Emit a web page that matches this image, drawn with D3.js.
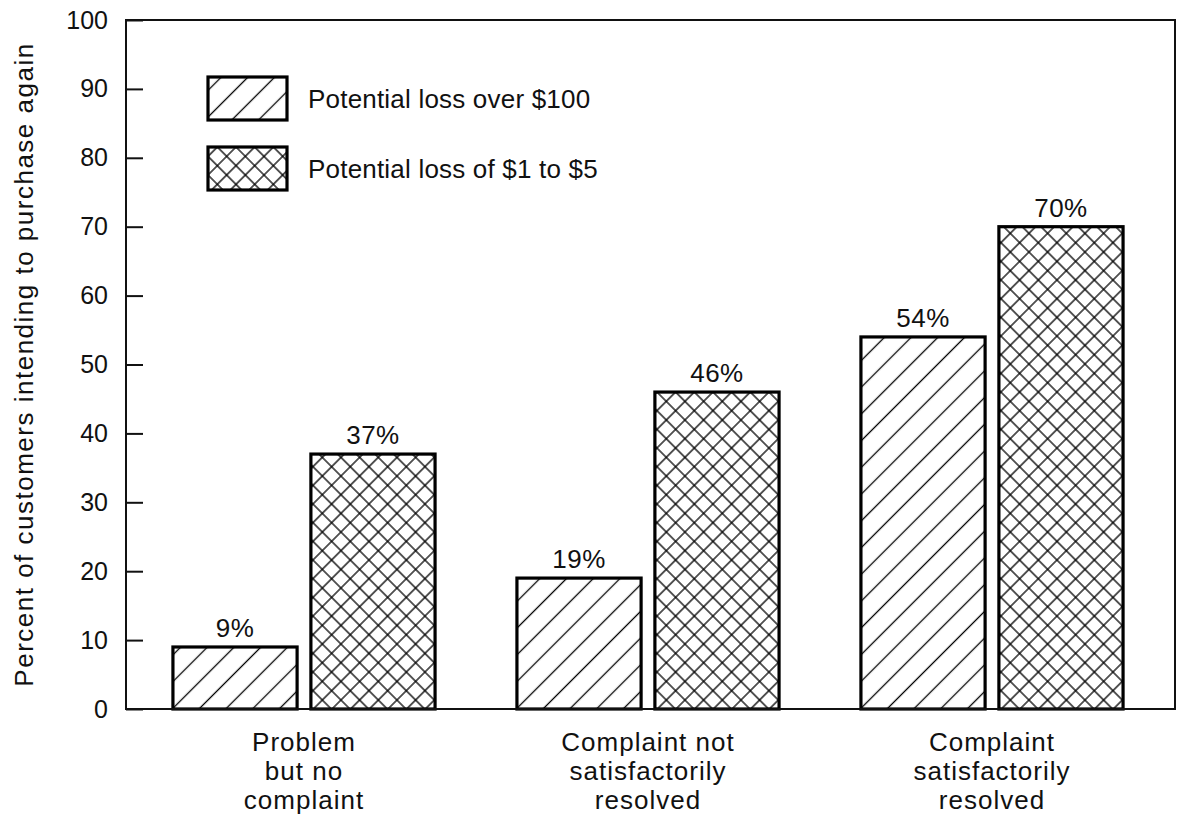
<!DOCTYPE html>
<html>
<head>
<meta charset="utf-8">
<script src="https://cdn.jsdelivr.net/npm/d3@7"></script>
<style>
  html, body { margin: 0; padding: 0; background: #fff; }
  svg { display: block; }
  text { font-family: "Liberation Sans", Arial, Helvetica, sans-serif; fill: #111; }
</style>
</head>
<body>
<script>
// Repurchase intention by complaint outcome and size of potential loss
const categories = [
  ["Problem", "but no", "complaint"],
  ["Complaint not", "satisfactorily", "resolved"],
  ["Complaint", "satisfactorily", "resolved"]
];
const seriesNames = ["Potential loss over $100", "Potential loss of $1 to $5"];
const lossOver100 = [9, 19, 54];
const loss1to5 = [37, 46, 70];
const yTicks = [0, 10, 20, 30, 40, 50, 60, 70, 80, 90, 100];
const yTitle = "Percent of customers intending to purchase again";

const W = 1177, H = 818;
const plot = { left: 126, right: 1175, top: 20, bottom: 709 };
const fontSize = 26;

const svg = d3.select("body").append("svg")
  .attr("width", W).attr("height", H);

// Hatch fills: single diagonal and cross diagonal
const defs = svg.append("defs");
function hatch(id, gap, cross) {
  const p = defs.append("pattern")
    .attr("id", id)
    .attr("patternUnits", "userSpaceOnUse")
    .attr("width", gap).attr("height", gap)
    .attr("patternTransform", "rotate(45)");
  p.append("rect").attr("width", gap).attr("height", gap).attr("fill", "#fff");
  p.append("line").attr("x1", gap / 2).attr("y1", 0).attr("x2", gap / 2).attr("y2", gap)
    .attr("stroke", "#000").attr("stroke-width", 1.3);
  if (cross) {
    p.append("line").attr("x1", 0).attr("y1", gap / 2).attr("x2", gap).attr("y2", gap / 2)
      .attr("stroke", "#000").attr("stroke-width", 1.3);
  }
}
hatch("hatchSingle", 18.9, false);
hatch("hatchCross", 13.2, true);
const fills = ["url(#hatchSingle)", "url(#hatchCross)"];

const x0 = d3.scaleBand()
  .domain(d3.range(categories.length))
  .range([132, 1164])
  .paddingInner(0.238)
  .paddingOuter(0.119);
const x1 = d3.scaleBand()
  .domain([0, 1])
  .range([0, x0.bandwidth()])
  .paddingInner(0.1)
  .paddingOuter(0);
const y = d3.scaleLinear().domain([0, 100]).range([plot.bottom, plot.top]);

// Frame
svg.append("rect")
  .attr("x", plot.left).attr("y", plot.top)
  .attr("width", plot.right - plot.left).attr("height", plot.bottom - plot.top)
  .attr("fill", "none").attr("stroke", "#111").attr("stroke-width", 2);

// Y axis with inward ticks
const yAxis = d3.axisLeft(y).tickValues(yTicks).tickSizeInner(-17).tickSizeOuter(0);
const yg = svg.append("g").attr("transform", `translate(${plot.left},0)`).call(yAxis);
yg.select(".domain").remove();
yg.selectAll(".tick line").attr("stroke", "#111").attr("stroke-width", 2);
yg.selectAll(".tick text")
  .attr("font-size", 25)
  .attr("font-family", "Liberation Sans, Arial, sans-serif")
  .attr("fill", "#111")
  .attr("x", -18);

// Y axis title
svg.append("text")
  .attr("transform", `translate(33,${(plot.top + plot.bottom) / 2}) rotate(-90)`)
  .attr("text-anchor", "middle")
  .attr("font-size", fontSize)
  .attr("letter-spacing", 1.5)
  .text(yTitle);

// Bars
const rows = categories.map((c, i) => ({ i, values: [lossOver100[i], loss1to5[i]] }));
const groups = svg.append("g").selectAll("g").data(rows).join("g")
  .attr("transform", d => `translate(${x0(d.i)},0)`);

groups.selectAll("rect").data(d => d.values.map((v, s) => ({ v, s }))).join("rect")
  .attr("x", d => x1(d.s))
  .attr("y", d => y(d.v))
  .attr("width", x1.bandwidth())
  .attr("height", d => y(0) - y(d.v))
  .attr("fill", d => fills[d.s])
  .attr("stroke", "#000")
  .attr("stroke-width", 3.2);

groups.selectAll("text.val").data(d => d.values.map((v, s) => ({ v, s }))).join("text")
  .attr("class", "val")
  .attr("x", d => x1(d.s) + x1.bandwidth() / 2)
  .attr("y", d => y(d.v) - 10)
  .attr("text-anchor", "middle")
  .attr("font-size", fontSize)
  .attr("letter-spacing", 0.5)
  .text(d => d.v + "%");

// Bottom axis line redrawn over bar bases
svg.append("line")
  .attr("x1", plot.left).attr("x2", plot.right)
  .attr("y1", plot.bottom).attr("y2", plot.bottom)
  .attr("stroke", "#111").attr("stroke-width", 2);

// Category labels
const cat = svg.append("g").selectAll("text").data(rows).join("text")
  .attr("x", d => x0(d.i) + x0.bandwidth() / 2)
  .attr("y", 751)
  .attr("text-anchor", "middle")
  .attr("font-size", fontSize)
  .attr("letter-spacing", 1.0);
cat.selectAll("tspan").data(d => categories[d.i]).join("tspan")
  .attr("x", function () { return d3.select(this.parentNode).attr("x"); })
  .attr("dy", (d, k) => k === 0 ? 0 : 29)
  .text(d => d);

// Legend
const legend = svg.append("g");
const legendRows = seriesNames.map((name, s) => ({ name, s }));
const lg = legend.selectAll("g").data(legendRows).join("g")
  .attr("transform", d => `translate(208,${77 + d.s * 70})`);
lg.append("rect")
  .attr("width", 79).attr("height", 43)
  .attr("fill", d => fills[d.s])
  .attr("stroke", "#000").attr("stroke-width", 3.2);
lg.append("text")
  .attr("x", 100).attr("y", 21.5)
  .attr("dy", "0.35em")
  .attr("font-size", fontSize)
  .attr("letter-spacing", 0.2)
  .text(d => d.name);
</script>
</body>
</html>
